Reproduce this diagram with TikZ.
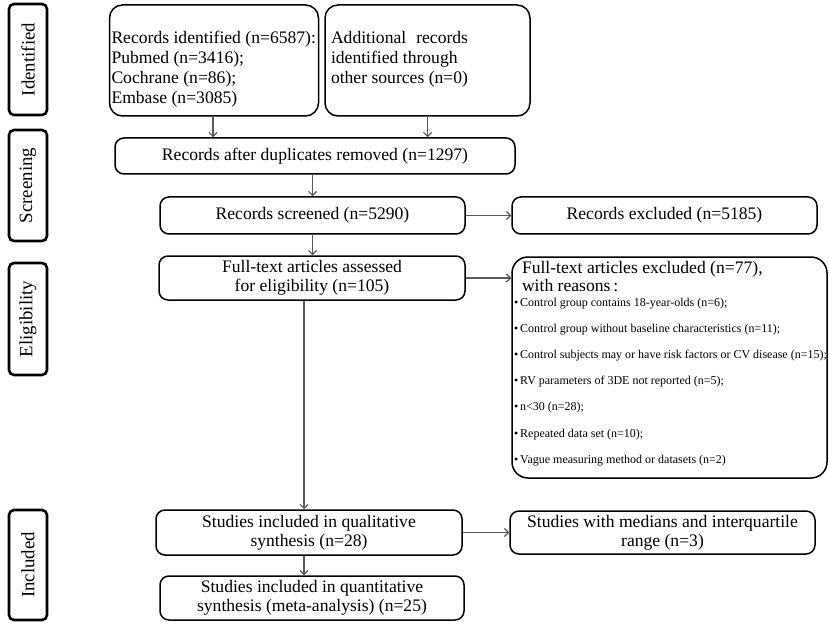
\documentclass[tikz,border=0pt]{standalone}
\usepackage{fontspec}
\setmainfont{Liberation Serif}
\usetikzlibrary{arrows.meta}
\begin{document}
\begin{tikzpicture}[x=1pt,y=-1pt,
  phase/.style={draw=black,line width=2.6pt,rounded corners=5pt,minimum width=38pt,inner sep=0pt,font=\fontsize{18.8}{20}\selectfont},
  box/.style={draw=black,line width=1.5pt,rounded corners=9pt,inner sep=2pt,font=\fontsize{17.6}{19}\selectfont,align=center},
  conn/.style={draw=black!65,line width=1.1pt,-{Straight Barb[length=4pt,width=8pt]}}
]
\useasboundingbox[fill=white] (0,0) rectangle (829,628);
% phase labels
\node[phase,minimum height=111pt] (pid) at (28,59.5) {\rotatebox{90}{Identified}};
\node[phase,minimum height=111pt] (pscr) at (28,185.5) {\rotatebox{90}{Screening}};
\node[phase,minimum height=112pt] (pel) at (28,319) {\rotatebox{90}{Eligibility}};
\node[phase,minimum height=110pt] (pinc) at (28,565) {\rotatebox{90}{Included}};
% boxes
\node[box,rounded corners=13pt,minimum width=208pt,minimum height=111pt,text width=205pt,align=flush left,font=\fontsize{17.6}{20}\selectfont] (b1) at (214,60.5)
  {\rule{0pt}{30.5pt}Records identified (n=6587):\\Pubmed (n=3416);\\Cochrane (n=86);\\Embase (n=3085)};
\node[box,rounded corners=13pt,minimum width=205pt,minimum height=111pt,text width=193pt,align=flush left,font=\fontsize{17.6}{20}\selectfont] (b2) at (427.5,60.5)
  {Additional\hspace{10pt}records\\identified through\\other sources (n=0)\rule[-5.5pt]{0pt}{5.5pt}};
\node[box,minimum width=400pt,minimum height=36pt] (b3) at (315,156) {Records after duplicates removed (n=1297)};
\node[box,minimum width=305pt,minimum height=37pt] (b4) at (312.5,215.5) {Records screened (n=5290)};
\node[box,minimum width=305pt,minimum height=37pt] (b5) at (664.5,215.5) {Records excluded (n=5185)};
\node[box,minimum width=306pt,minimum height=44pt] (b6) at (312,278) {Full-text articles assessed\\for eligibility (n=105)};
\node[box,rounded corners=16pt,minimum width=315pt,minimum height=221pt,text width=311pt,align=flush left] (b7) at (669.5,367.5)
  {{\fontsize{17.6}{18}\selectfont\hspace*{8pt}Full-text articles excluded (n=77),\\
   \hspace*{8pt}with reasons\,:\par}
   \vspace{-12pt}
   {\fontsize{12}{26.2}\selectfont
   \mbox{\textbullet\,Control group contains 18-year-olds (n=6);}\\
   \mbox{\textbullet\,Control group without baseline characteristics (n=11);}\\
   \mbox{\textbullet\,Control subjects may or have risk factors or CV disease (n=15);}\\
   \mbox{\textbullet\,RV parameters of 3DE not reported (n=5);}\\
   \mbox{\textbullet\,n<30 (n=28);}\\
   \mbox{\textbullet\,Repeated data set (n=10);}\\
   \mbox{\textbullet\,Vague measuring method or datasets (n=2)}\rule[-10pt]{0pt}{1pt}\par}};
\node[box,minimum width=306pt,minimum height=45pt] (b8) at (309,532.5) {Studies included in qualitative\\synthesis (n=28)};
\node[box,minimum width=305pt,minimum height=43pt] (b9) at (662.5,532.5) {Studies with medians and interquartile\\range (n=3)};
\node[box,minimum width=304pt,minimum height=44pt] (b10) at (312,598) {Studies included in quantitative\\synthesis (meta-analysis) (n=25)};
% connectors
\draw[conn] ([xshift=-1pt]b1.south) -- ([xshift=-1pt]b1.south |- b3.north);
\draw[conn] (b2.south) -- (b2.south |- b3.north);
\draw[conn] (b4.north |- b3.south) -- (b4.north);
\draw[conn] (b4.east) -- (b5.west);
\draw[conn] (b4.south) -- (b4.south |- b6.north);
\draw[conn] (b6.east) -- (b6.east -| b7.west);
\draw[conn] ([xshift=-5pt]b8.north |- b6.south) -- ([xshift=-5pt]b8.north);
\draw[conn] (b8.east) -- (b9.west);
\draw[conn] ([xshift=-5pt]b8.south) -- ([xshift=-5pt]b8.south |- b10.north);
\end{tikzpicture}
\end{document}
